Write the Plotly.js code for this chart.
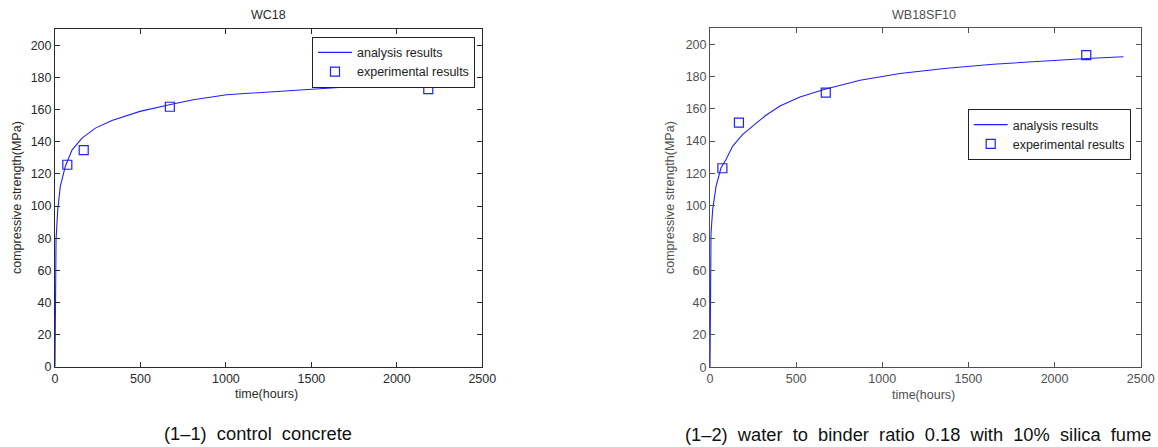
<!DOCTYPE html>
<html>
<head>
<meta charset="utf-8">
<script src="https://cdn.plot.ly/plotly-3.0.1.min.js"></script>
<style>html,body{margin:0;padding:0;background:#fff;}#chart{width:1158px;height:447px;}</style>
</head>
<body>
<div id="chart"></div>
<script>
// ---- data ----
const titles = ["WC18", "WB18SF10"];
const captions = ["(1\u20131)  control  concrete", "(1\u20132)  water  to  binder  ratio  0.18  with  10%  silica  fume"];
const xTicks = [0, 500, 1000, 1500, 2000, 2500];
const yTicks = [0, 20, 40, 60, 80, 100, 120, 140, 160, 180, 200];

// WC18 analysis curve
const wcCurveT = [0, 2, 6, 16, 31, 60, 100, 158, 236, 333, 497, 669, 809, 1004, 1200, 1434, 1707, 1980, 2272, 2400];
const wcCurveS = [0, 55, 79, 97.6, 112.2, 124.6, 135, 142.3, 148.5, 153.3, 158.9, 163, 166.2, 169.3, 170.7, 172.4, 174.1, 175.5, 176.6, 177];
// WC18 experiments
const wcExpT = [72, 168, 672, 2184];
const wcExpS = [125.7, 134.8, 161.8, 172.8];

// WB18SF10 analysis curve
const sfCurveT = [0, 3, 6, 15.5, 35, 64, 93, 132, 190, 267, 325, 406, 522, 667, 871, 1103, 1374, 1644, 1934, 2186, 2400];
const sfCurveS = [0, 58, 83, 97.6, 112, 123.5, 128.6, 136.9, 144.2, 151, 156, 161.7, 167.3, 172.1, 177.7, 181.8, 185.1, 187.6, 189.7, 191.1, 192.2];
// WB18SF10 experiments
const sfExpT = [72, 168, 672, 2184];
const sfExpS = [123.2, 151.4, 170.0, 193.2];

// ---- drawing ----
const W = 1158, H = 447;
const FONT = "Liberation Sans, Arial, Helvetica, sans-serif";
const px = v => v / W;
const py = v => 1 - v / H;
const blue = "#1f1fff";

const traces = [
  {x: wcCurveT, y: wcCurveS, mode: "lines", name: "analysis results",
   line: {color: blue, width: 1.1}, xaxis: "x", yaxis: "y", legend: "legend"},
  {x: wcExpT, y: wcExpS, mode: "markers", name: "experimental results",
   marker: {symbol: "square-open", size: 9, color: blue, line: {width: 1.2, color: blue}},
   xaxis: "x", yaxis: "y", legend: "legend"},
  {x: sfCurveT, y: sfCurveS, mode: "lines", name: "analysis results",
   line: {color: blue, width: 1.1}, xaxis: "x2", yaxis: "y2", legend: "legend2"},
  {x: sfExpT, y: sfExpS, mode: "markers", name: "experimental results",
   marker: {symbol: "square-open", size: 9, color: blue, line: {width: 1.2, color: blue}},
   xaxis: "x2", yaxis: "y2", legend: "legend2"}
];

function xax(domain, anchor, col) {
  return {domain: domain, anchor: anchor, range: [0, 2500], tickvals: xTicks, ticktext: xTicks.map(String),
    showgrid: false, zeroline: false, showline: true, linecolor: col, linewidth: 1, mirror: "ticks",
    ticks: "inside", ticklen: 5, tickcolor: col, tickfont: {family: FONT, size: 12.5, color: col}, fixedrange: true};
}
function yax(domain, anchor, col) {
  return {domain: domain, anchor: anchor, range: [0, 210], tickvals: yTicks, ticktext: yTicks.map(String),
    showgrid: false, zeroline: false, showline: true, linecolor: col, linewidth: 1, mirror: "ticks",
    ticks: "inside", ticklen: 5, tickcolor: col, tickfont: {family: FONT, size: 12.5, color: col}, fixedrange: true};
}

const colL = "#2a2a2a", colR = "#505050";
const ann = [];
function txt(t, x, y, size, col, extra) {
  ann.push(Object.assign({text: t, xref: "paper", yref: "paper", x: px(x), y: py(y),
    xanchor: "center", yanchor: "middle", showarrow: false,
    font: {family: FONT, size: size, color: col}}, extra || {}));
}
txt(titles[0], 268, 15, 12.5, colL);
txt(titles[1], 924, 15, 12.5, colR);
txt("time(hours)", 266.5, 394, 12.5, colL);
txt("time(hours)", 923, 395, 12.5, colR);
txt("compressive strength(MPa)", 17, 198, 12.5, colL, {textangle: -90});
txt("compressive strength(MPa)", 670, 198, 12.5, colR, {textangle: -90});
txt(captions[0], 257.5, 433, 18.3, "#111");
txt(captions[1], 917.5, 434, 18.3, "#111");

const legBase = {bgcolor: "#fff", bordercolor: "#222", borderwidth: 1,
  font: {family: FONT, size: 12.5, color: "#222"}, xanchor: "right", yanchor: "top",
  xref: "paper", yref: "paper", tracegroupgap: 0, itemwidth: 34};

const layout = {
  width: W, height: H, margin: {l: 0, r: 0, t: 0, b: 0},
  paper_bgcolor: "#fff", plot_bgcolor: "#fff", showlegend: true,
  xaxis: xax([px(55), px(482.3)], "y", colL),
  yaxis: yax([1 - 366.7 / H, 1 - 29.3 / H], "x", colL),
  xaxis2: xax([px(710), px(1140.7)], "y2", colR),
  yaxis2: yax([1 - 367.3 / H, 1 - 28 / H], "x2", colR),
  legend: Object.assign({}, legBase, {x: px(475), y: py(36.7)}),
  legend2: Object.assign({}, legBase, {x: px(1130.7), y: py(109)}),
  annotations: ann
};

Plotly.newPlot("chart", traces, layout, {displayModeBar: false, staticPlot: true});
</script>
</body>
</html>
